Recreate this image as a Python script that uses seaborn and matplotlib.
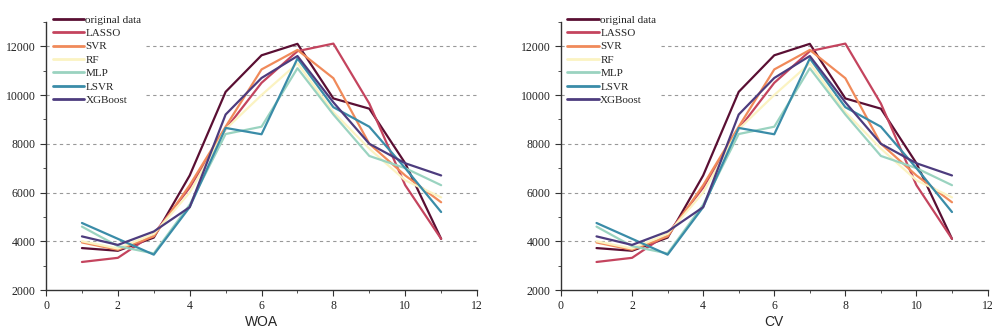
import matplotlib
matplotlib.use("Agg")
import matplotlib.pyplot as plt
from matplotlib.ticker import MultipleLocator
import seaborn as sns
import pandas as pd

months = [1, 2, 3, 4, 5, 6, 7, 8, 9, 10, 11]
original = [3720, 3610, 4150, 6700, 10130, 11630, 12100, 9860, 9440, 7200, 4100]
lasso = [3150, 3320, 4300, 6200, 8600, 10500, 11800, 12110, 9650, 6300, 4100]
svr = [3950, 3650, 4200, 6300, 8700, 11050, 11850, 10690, 8000, 6700, 5600]
rf = [4000, 3700, 4300, 6000, 8600, 10000, 11300, 9300, 7800, 6500, 5800]
mlp = [4600, 3800, 3500, 5500, 8400, 8700, 11100, 9200, 7500, 7000, 6300]
lsvr = [4750, 4100, 3450, 5400, 8650, 8390, 11500, 9500, 8700, 7000, 5200]
xgb = [4200, 3850, 4400, 5400, 9200, 10700, 11600, 9700, 8000, 7200, 6700]

series_names = ["original data", "LASSO", "SVR", "RF", "MLP", "LSVR", "XGBoost"]
series_values = [original, lasso, svr, rf, mlp, lsvr, xgb]
colors = ["#5a0f33", "#c4445e", "#f08a5a", "#fbf3c2", "#9ad3c0", "#3a8ca8", "#4d3c7e"]
panel_titles = ["WOA", "CV"]

rows = []
for name, vals in zip(series_names, series_values):
    for m, v in zip(months, vals):
        rows.append({"month": m, "value": v, "model": name})
df = pd.DataFrame(rows)

sns.set_style("white")
fig = plt.figure(figsize=(9.92, 3.32), dpi=100)
positions = [[0.0464, 0.1265, 0.4345, 0.8075], [0.5655, 0.1265, 0.4300, 0.8075]]

serif = ["Liberation Serif", "DejaVu Serif"]
sans = ["Liberation Sans", "DejaVu Sans"]

for pos, title in zip(positions, panel_titles):
    ax = fig.add_axes(pos)
    for y in [4000, 6000, 8000, 10000, 12000]:
        ax.axhline(y, color="#999999", lw=0.8, ls=(0, (3, 3)), zorder=0)
    sns.lineplot(data=df, x="month", y="value", hue="model", hue_order=series_names,
                 palette=colors, lw=1.6, ax=ax, legend=True)
    ax.set_xlim(0, 12)
    ax.set_ylim(2000, 13000)
    ax.xaxis.set_major_locator(MultipleLocator(2))
    ax.xaxis.set_minor_locator(MultipleLocator(1))
    ax.yaxis.set_major_locator(MultipleLocator(2000))
    ax.yaxis.set_minor_locator(MultipleLocator(1000))
    ax.tick_params(which="major", direction="out", length=4, width=0.8, color="#333333",
                   labelsize=8.5, bottom=True, left=True)
    ax.tick_params(which="minor", direction="out", length=2.5, width=0.6, color="#333333",
                   bottom=True, left=True)
    for lab in ax.get_xticklabels() + ax.get_yticklabels():
        lab.set_family(serif)
        lab.set_color("#222222")
    for s in ["top", "right"]:
        ax.spines[s].set_visible(False)
    for s in ["left", "bottom"]:
        ax.spines[s].set_color("#333333")
        ax.spines[s].set_linewidth(1.0)
    ax.set_xlabel(title, fontsize=10, family=sans, labelpad=2)
    ax.set_ylabel("")
    leg = ax.legend(loc="upper left", bbox_to_anchor=(0.01, 1.035), frameon=True,
                    prop={"family": serif, "size": 8}, handlelength=2.8,
                    handletextpad=0.15, labelspacing=0.33, borderpad=0.2,
                    borderaxespad=0.0)
    leg.get_frame().set_facecolor("white")
    leg.get_frame().set_edgecolor("white")
    leg.get_frame().set_alpha(1.0)
    for line in leg.get_lines():
        line.set_linewidth(2.0)

fig.savefig("out.png", dpi=100)
